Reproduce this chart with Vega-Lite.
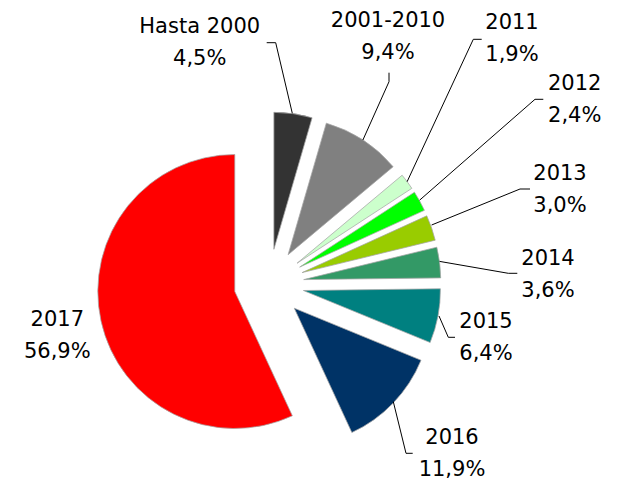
{
  "$schema": "https://vega.github.io/schema/vega-lite/v6.json",
  "width": 538,
  "height": 396,
  "autosize": {"type": "none"},
  "padding": {"left": 0, "top": 86, "right": 81, "bottom": 0},
  "background": "white",
  "data": {
    "values": [
      {"orden": 1, "cat": "Hasta 2000", "pct": 0.045},
      {"orden": 2, "cat": "2001-2010", "pct": 0.094},
      {"orden": 3, "cat": "2011", "pct": 0.019},
      {"orden": 4, "cat": "2012", "pct": 0.024},
      {"orden": 5, "cat": "2013", "pct": 0.030},
      {"orden": 6, "cat": "2014", "pct": 0.036},
      {"orden": 7, "cat": "2015", "pct": 0.064},
      {"orden": 8, "cat": "2016", "pct": 0.119},
      {"orden": 9, "cat": "2017", "pct": 0.569}
    ]
  },
  "layer": [
    {
      "transform": [
        {"stack": "pct", "groupby": [], "sort": [{"field": "orden", "order": "ascending"}], "as": ["p0", "p1"]}
      ],
      "mark": {"type": "arc", "radius": 137, "stroke": "#a6a6a6", "strokeWidth": 0.75},
      "encoding": {
        "theta": {"field": "p0", "type": "quantitative", "scale": {"domain": [0, 1]}},
        "theta2": {"field": "p1"},
        "color": {
          "field": "cat",
          "type": "nominal",
          "scale": {
            "domain": ["Hasta 2000", "2001-2010", "2011", "2012", "2013", "2014", "2015", "2016", "2017"],
            "range": ["#333333", "#808080", "#CCFFCC", "#00FF00", "#99CC00", "#339966", "#008080", "#003366", "#FF0000"]
          },
          "legend": null
        },
        "xOffset": {
          "field": "orden",
          "type": "quantitative",
          "scale": {"type": "linear", "zero": false, "nice": false, "domain": [1, 2, 3, 4, 5, 6, 7, 8, 9], "range": [4.9, 19.1, 28.1, 30.7, 33.1, 34.7, 34.4, 25.3, -34.2]}
        },
        "yOffset": {
          "field": "orden",
          "type": "quantitative",
          "scale": {"type": "linear", "zero": false, "nice": false, "domain": [1, 2, 3, 4, 5, 6, 7, 8, 9], "range": [-34.7, -29.3, -20.8, -16.9, -11.4, -4.4, 6.5, 24.2, 7.5]}
        }
      }
    },
    {
      "transform": [{"filter": "datum.orden < 9"}],
      "mark": {"type": "point", "size": 4, "filled": false, "stroke": "black", "strokeWidth": 1, "opacity": 1},
      "encoding": {
        "shape": {
          "field": "cat",
          "type": "nominal",
          "scale": {
            "domain": ["Hasta 2000", "2001-2010", "2011", "2012", "2013", "2014", "2015", "2016"],
            "range": [
              "M23.3,-170.7L6.7,-241.3L-2.3,-241.3",
              "M93.9,-144L120,-202.3L120,-211.3",
              "M138.1,-102.3L204.3,-244.7L212.7,-244.7",
              "M150.7,-83.9L266,-184.7L274.3,-184.7",
              "M162.6,-59L251,-95L261,-95",
              "M170.6,-22.6L239.3,-10.7L248.3,-10.7",
              "M170,32L179.3,53.3L186,53.3",
              "M124.3,117.7L137,169.3L143.7,169.3"
            ]
          },
          "legend": null
        }
      }
    },
    {
      "mark": {"type": "text", "font": "DejaVu Sans", "fontSize": 21, "align": "center", "baseline": "alphabetic", "color": "black"},
      "encoding": {
        "text": {"field": "cat", "type": "nominal"},
        "x": {
          "field": "orden", "type": "quantitative", "axis": null,
          "scale": {"type": "linear", "zero": false, "nice": false, "domain": [1, 2, 3, 4, 5, 6, 7, 8, 9], "range": [199.7, 388, 512, 574.7, 560, 548, 486, 452, 57.3]}
        },
        "y": {
          "field": "orden", "type": "quantitative", "axis": null,
          "scale": {"type": "linear", "zero": false, "nice": false, "domain": [1, 2, 3, 4, 5, 6, 7, 8, 9], "range": [-52.7, -58.7, -56.7, 4, 94, 179, 242.3, 358, 240]}
        }
      }
    },
    {
      "mark": {"type": "text", "font": "DejaVu Sans", "fontSize": 21, "align": "center", "baseline": "alphabetic", "color": "black", "dy": 31.7},
      "encoding": {
        "text": {"field": "pct", "type": "quantitative", "format": ".1%"},
        "x": {"field": "orden", "type": "quantitative", "axis": null},
        "y": {"field": "orden", "type": "quantitative", "axis": null}
      }
    }
  ],
  "config": {
    "view": {"stroke": null},
    "locale": {"number": {"decimal": ",", "thousands": ".", "grouping": [3], "currency": ["", " €"]}}
  }
}
